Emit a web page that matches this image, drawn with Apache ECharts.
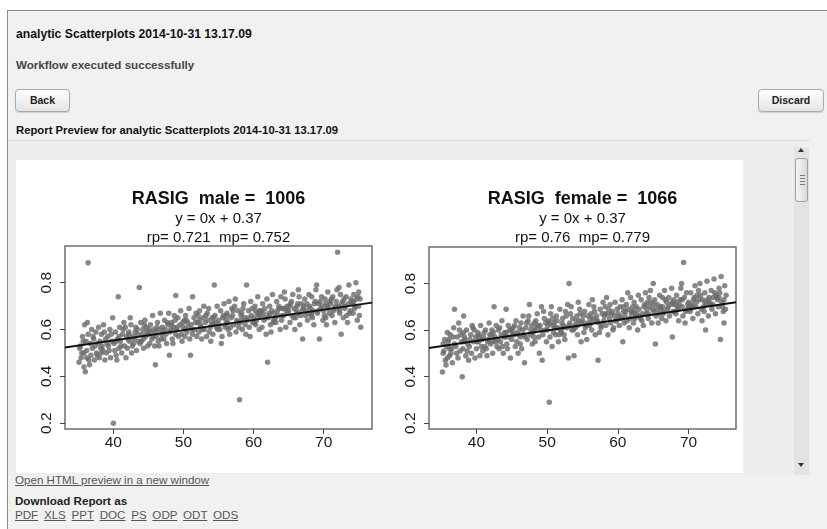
<!DOCTYPE html>
<html>
<head>
<meta charset="utf-8">
<script src="https://cdn.jsdelivr.net/npm/echarts@6/dist/echarts.min.js"></script>
<style>
html,body{margin:0;padding:0;width:827px;height:529px;overflow:hidden;background:#fff;font-family:"Liberation Sans",Arial,sans-serif;}
#frame{position:absolute;left:7px;top:10px;width:820px;height:519px;border-left:1px solid #8a8a8a;border-top:1px solid #8a8a8a;background:#f1f1f1;}
.t{position:absolute;white-space:nowrap;font-size:11.3px;line-height:14px;}
.b{font-weight:bold;}
.btn{position:absolute;height:21px;border:1px solid #a9a9a9;border-radius:4px;background:linear-gradient(#ffffff,#e4e4e4);font-weight:bold;font-size:10.5px;line-height:21px;text-align:center;color:#222;box-shadow:0 1px 1px rgba(0,0,0,0.15);}
#preview{position:absolute;left:8px;top:140px;width:802px;height:334px;border-top:1px solid #dcdcdc;background:#eeeeee;}
#chart{position:absolute;left:16px;top:160px;width:727px;height:313px;background:#fff;}
#track{position:absolute;left:794px;top:147px;width:15px;height:328px;background:#e3e3e3;}
#thumb{position:absolute;left:795px;top:158px;width:13px;height:44px;border:1px solid #a0a0a0;border-radius:3px;background:linear-gradient(90deg,#f6f6f6,#d8d8d8);box-sizing:border-box;}
.grip{position:absolute;left:4px;width:5px;height:1px;background:#777;}
.arr{position:absolute;left:798px;width:0;height:0;border-left:3px solid transparent;border-right:3px solid transparent;}
a{color:#555;text-decoration:underline;}
</style>
</head>
<body>
<div id="frame"></div>
<div class="t b" style="left:16px;top:27px;color:#111;font-size:12.2px;">analytic Scatterplots 2014-10-31 13.17.09</div>
<div class="t b" style="left:16px;top:58px;color:#444;font-size:11.6px;">Workflow executed successfully</div>
<div class="btn" style="left:15px;top:89px;width:53px;">Back</div>
<div class="btn" style="left:758px;top:89px;width:64px;">Discard</div>
<div class="t b" style="left:16px;top:123px;color:#111;">Report Preview for analytic Scatterplots 2014-10-31 13.17.09</div>
<div id="preview"></div>
<div id="chart"></div>
<div id="track"></div>
<div id="thumb"><div class="grip" style="top:16px"></div><div class="grip" style="top:19px"></div><div class="grip" style="top:22px"></div><div class="grip" style="top:25px"></div></div>
<div class="arr" style="top:148px;border-bottom:4px solid #333;"></div>
<div class="arr" style="top:463px;border-top:4px solid #333;"></div>
<div class="t" style="left:15px;top:473px;font-size:11.6px;"><a>Open HTML preview in a new window</a></div>
<div class="t b" style="left:15px;top:494px;color:#222;font-size:11.6px;">Download Report as</div>
<div class="t" style="left:15px;top:508px;word-spacing:2.5px;font-size:11.6px;"><a>PDF</a> <a>XLS</a> <a>PPT</a> <a>DOC</a> <a>PS</a> <a>ODP</a> <a>ODT</a> <a>ODS</a></div>
<script>
// ---- data ----
var xTicks = [40, 50, 60, 70];
var yTicks = [0.2, 0.4, 0.6, 0.8];
var maleTitle = 'RASIG  male =  1006';
var maleEq = 'y = 0x + 0.37';
var maleStats = 'rp= 0.721  mp= 0.752';
var femaleTitle = 'RASIG  female =  1066';
var femaleEq = 'y = 0x + 0.37';
var femaleStats = 'rp= 0.76  mp= 0.779';
var maleFit = [[33.1, 0.523], [76.9, 0.715]];
var femaleFit = [[33.3, 0.523], [76.7, 0.72]];
var maleData = [
[35.1,.46],[35.3,.53],[35.5,.50],[35.6,.57],[35.8,.44],[35.9,.62],[35.4,.48],[35.7,.55],
[36.0,.42],[36.2,.51],[36.4,.58],[36.5,.47],[36.7,.54],[36.9,.60],[36.3,.63],[36.8,.49],[36.4,.885],
[37.0,.52],[37.2,.56],[37.3,.47],[37.5,.59],[37.6,.50],[37.8,.54],[37.9,.61],[37.4,.53],
[38.0,.48],[38.1,.55],[38.3,.58],[38.5,.51],[38.6,.62],[38.8,.47],[38.9,.56],[38.4,.53],
[39.0,.50],[39.2,.57],[39.3,.53],[39.5,.60],[39.6,.48],[39.8,.55],[39.9,.65],[39.4,.51],
[40.0,.20],[40.1,.54],[40.3,.59],[40.4,.49],[40.6,.56],[40.7,.74],[40.8,.52],[40.9,.61],[40.5,.47],
[41.0,.55],[41.2,.50],[41.3,.58],[41.5,.63],[41.6,.53],[41.8,.48],[41.9,.57],[41.4,.60],
[42.0,.52],[42.2,.59],[42.3,.55],[42.5,.62],[42.6,.50],[42.8,.57],[42.9,.54],[42.4,.65],
[43.0,.56],[43.2,.61],[43.3,.51],[43.5,.58],[43.7,.78],[43.8,.54],[43.9,.63],[43.4,.60],
[44.0,.55],[44.2,.60],[44.3,.52],[44.5,.64],[44.6,.57],[44.8,.59],[44.9,.53],[44.4,.62],
[45.0,.58],[45.2,.54],[45.3,.62],[45.5,.56],[45.6,.66],[45.8,.60],[45.9,.53],[45.4,.59],
[46.0,.45],[46.1,.57],[46.3,.63],[46.4,.55],[46.6,.60],[46.7,.67],[46.9,.58],[46.5,.53],
[47.0,.61],[47.2,.56],[47.3,.64],[47.5,.58],[47.6,.54],[47.8,.62],[47.9,.67],[47.4,.60],
[48.0,.49],[48.1,.59],[48.3,.63],[48.4,.56],[48.6,.61],[48.7,.66],[48.9,.58],[48.5,.54],
[49.0,.60],[49.2,.65],[49.3,.57],[49.5,.62],[49.6,.68],[49.8,.55],[49.9,.63],[48.9,.745],
[50.0,.61],[50.2,.57],[50.3,.66],[50.5,.59],[50.6,.63],[50.8,.69],[50.9,.56],[50.4,.64],
[51.0,.49],[51.1,.62],[51.3,.58],[51.3,.74],[51.5,.65],[51.6,.60],[51.8,.67],[51.9,.57],
[52.0,.63],[52.2,.59],[52.3,.68],[52.5,.61],[52.6,.56],[52.8,.65],[52.9,.70],[52.4,.62],
[53.0,.60],[53.2,.66],[53.3,.57],[53.5,.64],[53.6,.69],[53.8,.61],[53.9,.55],[53.4,.67],
[54.0,.62],[54.2,.58],[54.4,.79],[54.5,.66],[54.6,.63],[54.8,.70],[54.9,.60],[54.3,.65],
[55.0,.64],[55.2,.60],[55.3,.68],[55.5,.57],[55.6,.65],[55.8,.71],[55.9,.62],[55.4,.54],
[56.0,.61],[56.2,.67],[56.3,.63],[56.5,.72],[56.6,.58],[56.8,.65],[56.9,.69],[56.4,.60],
[57.0,.66],[57.2,.62],[57.3,.70],[57.5,.59],[57.6,.64],[57.8,.68],[57.9,.61],[57.4,.73],
[58.0,.30],[58.1,.63],[58.3,.67],[58.4,.60],[58.6,.71],[58.7,.65],[58.9,.58],[58.5,.69],
[59.0,.79],[59.1,.64],[59.3,.68],[59.4,.61],[59.6,.72],[59.7,.66],[59.9,.63],[59.5,.57],
[60.0,.65],[60.2,.70],[60.3,.62],[60.5,.67],[60.6,.74],[60.8,.60],[60.9,.68],[60.4,.64],
[61.0,.66],[61.2,.61],[61.3,.71],[61.5,.64],[61.6,.69],[61.8,.58],[61.9,.73],[61.4,.67],
[62.0,.46],[62.1,.65],[62.3,.70],[62.4,.62],[62.6,.68],[62.7,.75],[62.9,.64],[62.5,.59],
[63.0,.67],[63.2,.63],[63.3,.72],[63.5,.66],[63.6,.70],[63.8,.60],[63.9,.74],[63.4,.68],
[64.0,.64],[64.2,.69],[64.3,.66],[64.5,.73],[64.6,.61],[64.8,.70],[64.9,.67],[64.4,.76],
[65.0,.68],[65.2,.63],[65.3,.71],[65.5,.66],[65.6,.75],[65.8,.69],[65.9,.60],[65.4,.72],
[66.0,.65],[66.2,.70],[66.3,.67],[66.5,.74],[66.6,.62],[66.8,.71],[66.9,.68],[66.4,.77],
[67.0,.56],[67.1,.69],[67.3,.73],[67.4,.66],[67.6,.71],[67.7,.64],[67.9,.75],[67.5,.68],
[68.0,.70],[68.2,.66],[68.3,.74],[68.5,.68],[68.6,.62],[68.8,.72],[68.9,.77],[68.4,.65],
[69.0,.79],[69.1,.67],[69.3,.71],[69.4,.56],[69.6,.69],[69.7,.74],[69.9,.64],[69.5,.72],
[70.0,.68],[70.2,.73],[70.3,.65],[70.5,.70],[70.6,.76],[70.8,.67],[70.9,.72],[70.4,.62],
[71.0,.71],[71.2,.66],[71.3,.74],[71.5,.69],[71.6,.63],[71.8,.72],[71.9,.77],[71.4,.68],
[72.0,.93],[72.1,.70],[72.3,.67],[72.4,.75],[72.5,.58],[72.6,.71],[72.8,.65],[72.9,.73],[72.2,.78],
[73.0,.69],[73.2,.74],[73.3,.66],[73.5,.71],[73.6,.79],[73.8,.68],[73.9,.73],[73.4,.63],
[74.0,.72],[74.2,.67],[74.3,.75],[74.5,.70],[74.6,.80],[74.8,.64],[74.9,.74],[74.4,.69],
[75.0,.70],[75.1,.66],[75.2,.73],[75.3,.61],[75.0,.76]
];
var maleExtra = [
[35.2,.52],[35.8,.50],[36.1,.55],[36.6,.45],[37.1,.57],[37.7,.49],[38.2,.52],[38.7,.59],[39.1,.54],[39.7,.58],
[40.2,.51],[40.8,.57],[41.1,.53],[41.7,.61],[42.1,.56],[42.7,.53],[43.1,.59],[43.6,.55],[44.1,.58],[44.7,.61],
[45.1,.60],[45.7,.57],[46.2,.61],[46.8,.56],[47.1,.59],[47.7,.63],[48.2,.60],[48.8,.64],[49.1,.61],[49.7,.58],
[50.1,.64],[50.7,.61],[51.2,.60],[51.7,.63],[52.1,.66],[52.7,.60],[53.1,.63],[53.7,.59],[54.1,.65],[54.7,.61],
[55.1,.62],[55.7,.66],[56.1,.64],[56.7,.61],[57.1,.68],[57.7,.63],[58.2,.66],[58.8,.62],[59.2,.65],[59.8,.69],
[60.1,.63],[60.7,.66],[61.1,.68],[61.7,.65],[62.2,.67],[62.8,.63],[63.1,.65],[63.7,.69],[64.1,.66],[64.7,.68],
[65.1,.70],[65.7,.65],[66.1,.68],[66.7,.66],[67.2,.70],[67.8,.67],[68.1,.69],[68.7,.71],[69.2,.68],[69.8,.70],
[70.1,.66],[70.7,.69],[71.1,.73],[71.7,.70],[72.2,.68],[72.7,.72],[73.1,.70],[73.7,.67],[74.1,.71],[74.7,.73],
[36.2,.48],[38.3,.50],[40.4,.55],[42.2,.58],[44.3,.56],[46.1,.59],[48.3,.62],[50.2,.60],[52.3,.64],[54.2,.63],
[56.2,.66],[58.3,.64],[60.3,.68],[62.3,.66],[64.3,.69],[66.3,.71],[68.3,.67],[70.3,.71],[72.3,.69],[74.3,.72]
];
var femaleData = [
[35.2,.42],[35.3,.50],[35.5,.56],[35.6,.47],[35.8,.53],[35.9,.59],[35.4,.51],[35.7,.45],
[36.0,.55],[36.2,.49],[36.3,.58],[36.5,.52],[36.6,.46],[36.8,.61],[36.9,.54],[36.4,.50],
[36.9,.69],[37.1,.53],[37.3,.57],[37.4,.48],[37.6,.60],[37.7,.51],[37.9,.55],[37.5,.63],
[38.0,.40],[38.2,.66],[38.1,.52],[38.3,.57],[38.5,.49],[38.6,.60],[38.8,.54],[38.9,.47],[38.4,.56],
[39.0,.53],[39.2,.58],[39.3,.50],[39.5,.61],[39.6,.55],[39.8,.48],[39.9,.57],[39.4,.62],
[40.0,.52],[40.2,.59],[40.3,.55],[40.5,.49],[40.6,.62],[40.8,.56],[40.9,.51],[40.4,.58],
[41.0,.57],[41.2,.53],[41.3,.60],[41.5,.49],[41.6,.55],[41.8,.63],[41.9,.58],[41.4,.52],
[42.0,.54],[42.2,.60],[42.3,.50],[42.5,.70],[42.6,.57],[42.8,.62],[42.9,.53],[42.4,.59],
[43.0,.56],[43.2,.52],[43.3,.61],[43.5,.58],[43.6,.64],[43.8,.50],[43.9,.57],[43.4,.55],
[44.0,.59],[44.2,.69],[44.3,.54],[44.5,.62],[44.6,.57],[44.8,.48],[44.9,.60],[44.4,.52],
[45.0,.56],[45.2,.61],[45.3,.58],[45.5,.53],[45.6,.64],[45.8,.59],[45.9,.50],[45.4,.62],
[46.0,.58],[46.2,.54],[46.3,.63],[46.5,.60],[46.6,.66],[46.8,.46],[46.9,.57],[46.4,.52],
[47.0,.61],[47.2,.56],[47.3,.64],[47.5,.71],[47.6,.58],[47.8,.62],[47.9,.54],[47.4,.66],
[48.0,.59],[48.2,.63],[48.3,.55],[48.5,.61],[48.6,.67],[48.8,.57],[48.9,.50],[48.4,.64],
[49.0,.62],[49.2,.70],[49.3,.47],[49.4,.58],[49.6,.65],[49.7,.60],[49.9,.55],[49.5,.68],
[50.0,.60],[50.3,.29],[50.2,.64],[50.4,.57],[50.5,.67],[50.7,.53],[50.8,.62],[50.9,.59],[50.6,.70],
[51.0,.63],[51.2,.58],[51.3,.66],[51.5,.61],[51.6,.55],[51.8,.69],[51.9,.60],[51.4,.64],
[52.0,.59],[52.2,.65],[52.3,.62],[52.5,.56],[52.6,.68],[52.8,.61],[52.9,.71],[52.4,.58],
[53.0,.48],[53.1,.80],[53.2,.63],[53.3,.67],[53.5,.60],[53.6,.65],[53.8,.49],[53.9,.62],[53.4,.70],
[54.0,.61],[54.2,.66],[54.3,.58],[54.5,.64],[54.6,.69],[54.8,.55],[54.9,.63],[54.4,.72],
[55.0,.64],[55.2,.59],[55.3,.68],[55.5,.62],[55.6,.56],[55.8,.66],[55.9,.71],[55.4,.61],
[56.0,.62],[56.2,.67],[56.3,.60],[56.5,.65],[56.6,.70],[56.8,.58],[56.9,.64],[56.4,.73],
[57.0,.66],[57.2,.47],[57.3,.63],[57.5,.69],[57.6,.61],[57.8,.67],[57.9,.72],[57.4,.59],
[58.0,.64],[58.2,.70],[58.3,.62],[58.5,.67],[58.6,.58],[58.8,.65],[58.9,.71],[58.4,.74],
[59.0,.63],[59.2,.68],[59.3,.60],[59.5,.66],[59.6,.72],[59.8,.64],[59.9,.69],[59.4,.61],
[60.0,.67],[60.2,.62],[60.3,.70],[60.5,.65],[60.7,.55],[60.6,.73],[60.8,.68],[60.9,.63],
[61.0,.66],[61.2,.71],[61.3,.64],[61.5,.69],[61.6,.61],[61.8,.74],[61.9,.67],[61.4,.76],
[62.0,.68],[62.2,.63],[62.3,.72],[62.5,.66],[62.6,.70],[62.8,.60],[62.9,.75],[62.4,.65],
[63.0,.69],[63.2,.65],[63.3,.73],[63.5,.67],[63.6,.62],[63.8,.71],[63.9,.76],[63.4,.64],
[64.0,.67],[64.2,.72],[64.3,.65],[64.5,.70],[64.6,.77],[64.8,.63],[64.9,.69],[64.4,.74],
[65.0,.80],[65.3,.54],[65.1,.68],[65.2,.73],[65.4,.66],[65.6,.71],[65.7,.63],[65.9,.75],[65.5,.69],
[66.0,.70],[66.2,.65],[66.3,.74],[66.5,.68],[66.6,.77],[66.8,.64],[66.9,.72],[66.4,.67],
[67.0,.69],[67.2,.74],[67.3,.66],[67.5,.71],[67.7,.57],[67.6,.78],[67.8,.68],[67.9,.73],
[68.0,.71],[68.2,.67],[68.3,.75],[68.5,.69],[68.6,.64],[68.8,.73],[68.9,.78],[68.4,.70],
[69.0,.80],[69.3,.89],[69.1,.70],[69.2,.66],[69.4,.74],[69.6,.68],[69.7,.76],[69.9,.71],[69.5,.63],
[70.0,.72],[70.2,.68],[70.3,.76],[70.5,.70],[70.6,.65],[70.8,.74],[70.9,.79],[70.4,.71],
[71.0,.70],[71.2,.75],[71.3,.67],[71.5,.73],[71.6,.80],[71.8,.69],[71.9,.64],[71.4,.77],
[72.0,.73],[72.2,.68],[72.3,.76],[72.5,.71],[72.6,.81],[72.8,.66],[72.9,.74],[72.4,.60],
[73.0,.72],[73.2,.77],[73.3,.69],[73.5,.74],[73.6,.82],[73.8,.67],[73.9,.75],[73.4,.71],
[74.0,.74],[74.2,.70],[74.3,.78],[74.5,.56],[74.6,.83],[74.7,.72],[74.9,.68],[74.4,.76],
[75.0,.73],[75.1,.79],[75.2,.69],[75.3,.75],[75.0,.63]
];
var femaleExtra = [
[35.3,.54],[35.9,.48],[36.2,.52],[36.7,.57],[37.2,.50],[37.8,.58],[38.2,.55],[38.7,.51],[39.1,.56],[39.7,.60],
[40.1,.55],[40.7,.53],[41.1,.59],[41.7,.56],[42.1,.58],[42.7,.55],[43.1,.60],[43.7,.53],[44.1,.57],[44.7,.60],
[45.1,.59],[45.7,.55],[46.1,.61],[46.7,.58],[47.1,.63],[47.7,.60],[48.1,.57],[48.7,.62],[49.1,.60],[49.8,.63],
[50.1,.62],[50.8,.65],[51.1,.61],[51.7,.58],[52.1,.63],[52.7,.66],[53.1,.62],[53.7,.60],[54.1,.64],[54.7,.67],
[55.1,.66],[55.7,.63],[56.1,.65],[56.7,.68],[57.1,.64],[57.7,.62],[58.1,.66],[58.7,.69],[59.1,.67],[59.7,.64],
[60.1,.65],[60.8,.70],[61.1,.68],[61.7,.65],[62.1,.70],[62.7,.67],[63.1,.66],[63.7,.70],[64.1,.69],[64.7,.72],
[65.1,.71],[65.8,.67],[66.1,.69],[66.7,.73],[67.1,.70],[67.7,.72],[68.1,.68],[68.7,.71],[69.1,.73],[69.8,.69],
[70.1,.70],[70.7,.73],[71.1,.72],[71.7,.75],[72.1,.70],[72.7,.73],[73.1,.71],[73.7,.76],[74.1,.73],[74.8,.70],
[36.1,.56],[38.2,.59],[40.3,.57],[42.3,.55],[44.2,.59],[46.2,.57],[48.2,.60],[50.3,.63],[52.2,.61],[54.3,.62],
[56.2,.63],[58.2,.67],[60.3,.66],[62.3,.68],[64.3,.67],[66.3,.70],[68.3,.72],[70.3,.69],[72.3,.72],[74.3,.74]
];

// ---- chart ----
var FONT = '"Liberation Sans", Arial, Helvetica, sans-serif';
var chart = echarts.init(document.getElementById('chart'), null, {renderer: 'canvas'});
var grids = [
  {left: 49, top: 86, width: 307, height: 183},
  {left: 413, top: 87, width: 307, height: 182}
];
function xAxis(i, mn, mx) {
  return {
    type: 'value', gridIndex: i, min: mn, max: mx,
    axisLine: {show: false},
    splitLine: {show: false},
    axisTick: {show: true, length: 5, inside: false, customValues: xTicks, lineStyle: {color: '#444', width: 1}},
    axisLabel: {show: true, customValues: xTicks, margin: 6, color: '#1a1a1a', fontSize: 15.5, fontFamily: FONT}
  };
}
function yAxis(i) {
  return {
    type: 'value', gridIndex: i, min: 0.175, max: 0.957,
    axisLine: {show: false},
    splitLine: {show: false},
    axisTick: {show: true, length: 5, inside: false, customValues: yTicks, lineStyle: {color: '#444', width: 1}},
    axisLabel: {show: true, customValues: yTicks, rotate: 90, margin: 10, color: '#1a1a1a', fontSize: 15.5, fontFamily: FONT,
      formatter: function (v) { return v.toFixed(1); }}
  };
}
function titleTexts(cx, t1, t2, t3) {
  return [
    {type: 'text', x: cx, y: 39, style: {text: t1, fontSize: 18, fontWeight: 'bold', fontFamily: FONT, fill: '#111', align: 'center', verticalAlign: 'middle'}},
    {type: 'text', x: cx, y: 59, style: {text: t2, fontSize: 15, fontFamily: FONT, fill: '#111', align: 'center', verticalAlign: 'middle'}},
    {type: 'text', x: cx, y: 78, style: {text: t3, fontSize: 15, fontFamily: FONT, fill: '#111', align: 'center', verticalAlign: 'middle'}}
  ];
}
var pointStyle = {color: '#6a6a6a'};
function pts(xi, data) {
  return {type: 'scatter', xAxisIndex: xi, yAxisIndex: xi, data: data, symbolSize: 5.5, itemStyle: pointStyle, silent: true};
}
chart.setOption({
  animation: false,
  backgroundColor: '#ffffff',
  grid: grids.map(function (g) {
    return Object.assign({show: true, borderColor: '#6c6c6c', borderWidth: 1.5, backgroundColor: 'transparent'}, g);
  }),
  xAxis: [xAxis(0, 33.1, 76.9), xAxis(1, 33.3, 76.7)],
  yAxis: [yAxis(0), yAxis(1)],
  graphic: titleTexts(49 + 153.5, maleTitle, maleEq, maleStats).concat(titleTexts(413 + 153.5, femaleTitle, femaleEq, femaleStats)),
  series: [
    pts(0, maleData), pts(0, maleExtra),
    pts(1, femaleData), pts(1, femaleExtra),
    {type: 'line', xAxisIndex: 0, yAxisIndex: 0, data: maleFit, symbol: 'none', lineStyle: {color: '#111', width: 2}, silent: true},
    {type: 'line', xAxisIndex: 1, yAxisIndex: 1, data: femaleFit, symbol: 'none', lineStyle: {color: '#111', width: 2}, silent: true}
  ]
});
</script>
</body>
</html>
